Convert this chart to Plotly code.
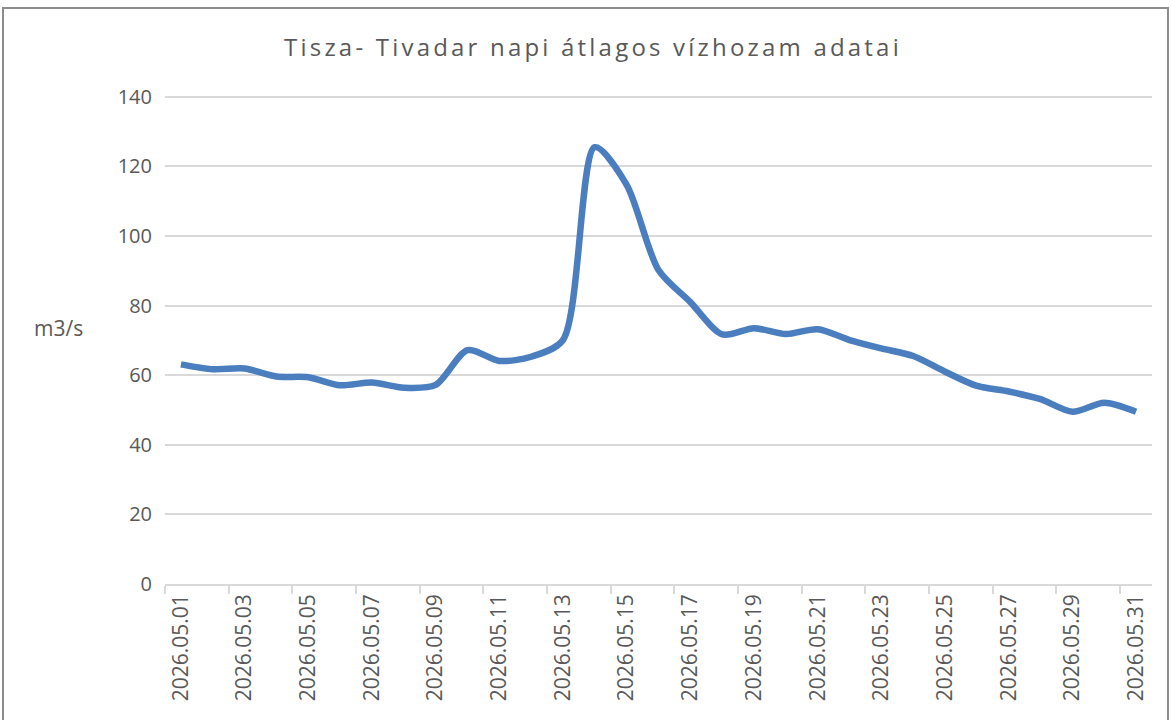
import plotly.graph_objects as go

dates = [f"2026.05.{d:02d}" for d in range(1, 32)]
flow = [63.1, 61.7, 61.9, 59.6, 59.4, 57.1, 57.9, 56.4, 57.2, 67.2,
        64.1, 65.3, 70.1, 125.5, 114.7, 90.2, 81.0, 71.7, 73.5, 71.8,
        73.2, 70.1, 67.7, 65.5, 61.0, 56.9, 55.3, 53.1, 49.5, 52.1, 49.5]
title_text = "Tisza- Tivadar napi átlagos vízhozam adatai"
y_label = "m3/s"

W, H = 1171, 720
Y_TOP = 140.5
L, R = 165, 19
B = H - 584
T = int(round(97 - (Y_TOP - 140) * (487 / 140)))
pw, ph = W - L - R, H - T - B

def px_x(p):
    return (p - L) / pw

def px_y(p):
    return (H - B - p) / ph

fig = go.Figure()
fig.add_trace(go.Scatter(
    x=dates, y=flow, mode="lines",
    line=dict(color="#4A7EBF", width=6.5, shape="spline", smoothing=0.8),
    hoverinfo="x+y", showlegend=False,
))

font_fam = "Open Sans"
txt_col = "#595959"
fig.update_layout(
    width=W, height=H,
    margin=dict(l=L, r=R, t=T, b=B),
    paper_bgcolor="white", plot_bgcolor="white",
    title=dict(text=f'<span style="letter-spacing:3.2px">{title_text}</span>',
               x=593 / W, xref="container", xanchor="center",
               y=1 - 48 / H, yanchor="middle", yref="container",
               font=dict(family=font_fam, size=24, color=txt_col)),
    xaxis=dict(type="category", tickmode="linear", tick0=0, dtick=2,
               tickson="boundaries", ticks="outside", ticklen=8,
               tickcolor="#D9D9D9", tickwidth=1.5,
               showline=True, linecolor="#D9D9D9", linewidth=1.5,
               showgrid=False, tickangle=-90,
               range=[-0.5, len(dates) - 0.5],
               tickfont=dict(family=font_fam, size=21, color=txt_col)),
    yaxis=dict(range=[0, Y_TOP], dtick=20, showgrid=True, gridcolor="#D9D9D9",
               gridwidth=1.5, zeroline=False, showline=False,
               ticks="", ticklabelstandoff=12,
               tickfont=dict(family=font_fam, size=20, color=txt_col)),
    shapes=[dict(type="rect", xref="paper", yref="paper",
                 x0=px_x(3), x1=px_x(1168), y0=px_y(730), y1=px_y(8),
                 line=dict(color="#8C8C8C", width=2), fillcolor="rgba(0,0,0,0)",
                 layer="below")],
    annotations=[dict(text=y_label, xref="paper", yref="paper",
                      x=px_x(58), y=px_y(328), showarrow=False,
                      xanchor="center", yanchor="middle",
                      font=dict(family=font_fam, size=21, color=txt_col))],
)

fig.write_html("out.html", config={"displayModeBar": False},
               post_script="document.body.style.margin='0px';document.body.style.overflow='hidden';")
